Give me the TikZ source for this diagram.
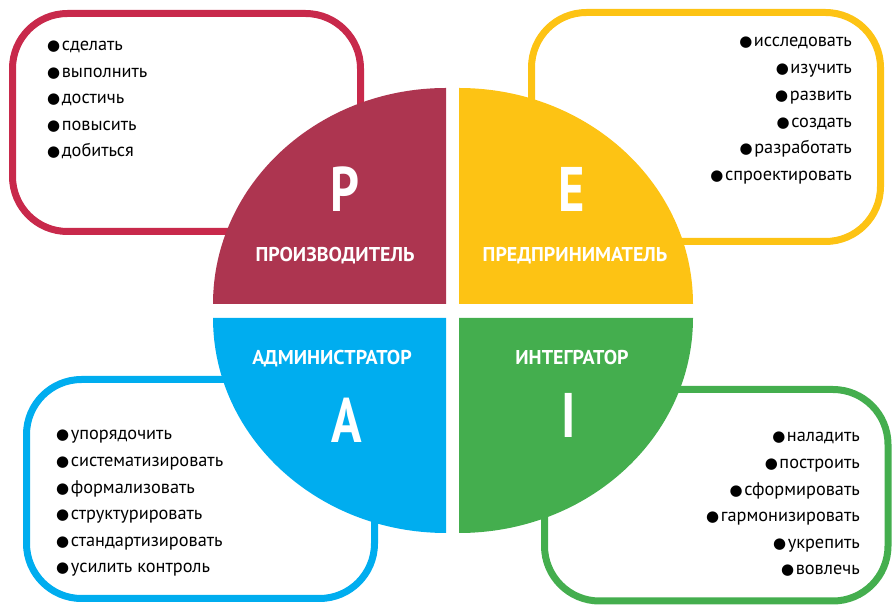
\documentclass[tikz,border=0pt]{standalone}
\usepackage{fontspec}
\usepackage{graphicx}
\setmainfont{PT Sans}
\newfontfamily\symfont{DejaVu Sans}
\usetikzlibrary{positioning}

\definecolor{prodline}{HTML}{C8294B}
\definecolor{prodfill}{HTML}{AD3550}
\definecolor{entrcol}{HTML}{FDC314}
\definecolor{admincol}{HTML}{00ADEF}
\definecolor{integcol}{HTML}{44AE4E}
\newcommand{\bul}{{\symfont\fontsize{15}{15}\selectfont\kern-1pt●\kern-1.5pt}}

\begin{document}
\begin{tikzpicture}[
    x=1pt, y=1pt,
    frame/.style={line width=7pt, rounded corners=55pt},
    item/.style={inner sep=0pt, font=\fontsize{18.3}{20}\selectfont},
    role/.style={text=white, inner sep=0pt, anchor=base, font=\bfseries\fontsize{20}{20}\selectfont},
    letter/.style={text=white, inner sep=0pt, anchor=base, font=\bfseries\fontsize{63}{63}\selectfont}
  ]
    \useasboundingbox (0,0) rectangle (892,605);
    % frames behind the circle
    \draw[frame, prodline] (12.5,591.5) rectangle (360.5,373.5);
    \draw[frame, entrcol] (531.5,592.5) rectangle (880.5,363.5);
    \draw[frame, admincol] (26.5,225.5) rectangle (374.5,6.5);
    \draw[frame, integcol] (544.5,215.5) rectangle (888,4);
    % quadrants
    \fill[prodfill] (446,301) -- (213,301) arc[start angle=180, end angle=90, x radius=233, y radius=216] -- cycle;
    \fill[entrcol] (459,301) -- (459,517) arc[start angle=90, end angle=0, x radius=234, y radius=216] -- cycle;
    \fill[admincol] (446,287) -- (446,72) arc[start angle=270, end angle=180, x radius=233, y radius=215] -- cycle;
    \fill[integcol] (459,287) -- (693,287) arc[start angle=0, end angle=-90, x radius=234, y radius=215] -- cycle;
    % letters and roles
    \node[letter] (P) at (345,393) {\scalebox{0.8}[1]{P}};
    \node[letter] (E) at (572,393) {\scalebox{0.8}[1]{E}};
    \node[letter] (A) at (347,162) {\scalebox{0.8}[1]{A}};
    \node[letter] (I) at (569,167) {\scalebox{0.8}[1]{I}};
    \node[role] (prod) at (335,343) {ПРОИЗВОДИТЕЛЬ};
    \node[role] (entr) at (575,343) {ПРЕДПРИНИМАТЕЛЬ};
    \node[role] (admin) at (332,240) {АДМИНИСТРАТОР};
    \node[role] (integ) at (572,240) {ИНТЕГРАТОР};
    % lists
    \foreach \w [count=\i] in {сделать, выполнить, достичь, повысить, добиться}
      \node[item, anchor=base west] (p\i) at (48,554-26.5*\i+26.5) {\bul\,\w};
    \foreach \w [count=\i] in {исследовать, изучить, развить, создать, разработать, спроектировать}
      \node[item, anchor=base east] (e\i) at (852,558-26.7*\i+26.7) {\bul\,\w};
    \foreach \w [count=\i] in {упорядочить, систематизировать, формализовать, структурировать, стандартизировать, усилить контроль}
      \node[item, anchor=base west] (a\i) at (57,165-26.6*\i+26.6) {\bul\,\w};
    \foreach \w [count=\i] in {наладить, построить, сформировать, гармонизировать, укрепить, вовлечь}
      \node[item, anchor=base east] (i\i) at (860,163-26.6*\i+26.6) {\bul\,\w};
\end{tikzpicture}
\end{document}
